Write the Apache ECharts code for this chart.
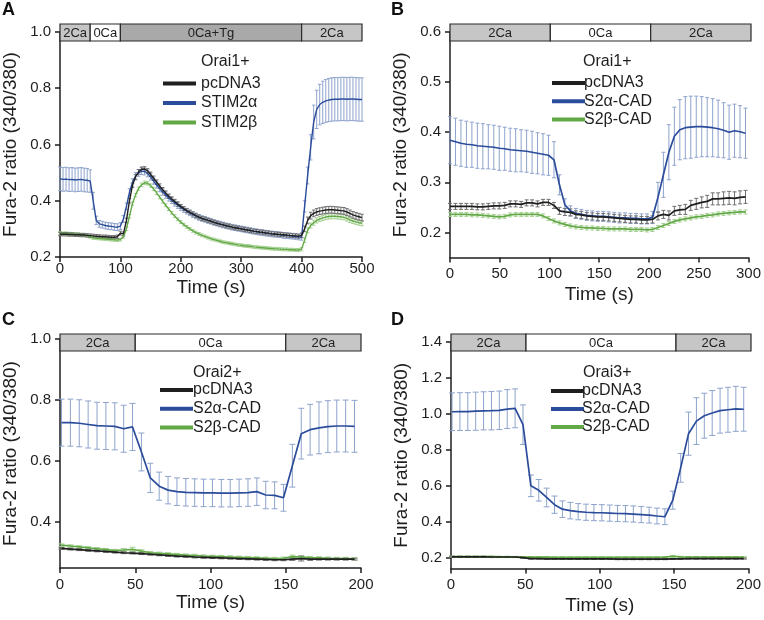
<!DOCTYPE html>
<html>
<head>
<meta charset="utf-8">
<script src="https://cdn.jsdelivr.net/npm/echarts@6/dist/echarts.min.js"></script>
<style>html,body{margin:0;padding:0;background:#fff}#c{width:764px;height:620px}</style>
</head>
<body>
<div id="c"></div>
<script>
// ---------- DATA ----------
const tA = [0,5,10,15,20,25,30,35,40,45,50,55,60,65,70,75,80,85,90,95,100,105,110,115,120,125,130,135,140,145,150,155,160,165,170,175,180,185,190,195,200,205,210,215,220,225,230,235,240,245,250,255,260,265,270,275,280,285,290,295,300,305,310,315,320,325,330,335,340,345,350,355,360,365,370,375,380,385,390,395,400,405,410,415,420,425,430,435,440,445,450,455,460,465,470,475,480,485,490,495,500];
const aBlack = [0.282,0.281,0.281,0.280,0.280,0.279,0.279,0.278,0.278,0.277,
0.276,0.275,0.274,0.273,0.272,0.272,0.271,0.270,0.270,0.272,
0.285,0.282,0.330,0.400,0.455,0.485,0.503,0.512,0.513,0.506,
0.494,0.480,0.466,0.452,0.439,0.427,0.416,0.406,0.397,0.388,
0.380,0.372,0.365,0.359,0.353,0.347,0.342,0.337,0.334,0.330,
0.327,0.323,0.320,0.317,0.314,0.311,0.309,0.306,0.304,0.302,
0.300,0.298,0.296,0.294,0.292,0.291,0.289,0.288,0.286,0.285,
0.283,0.282,0.281,0.280,0.279,0.278,0.277,0.276,0.275,0.274,
0.277,0.300,0.330,0.347,0.355,0.360,0.363,0.365,0.367,0.368,
0.368,0.367,0.366,0.365,0.364,0.360,0.355,0.350,0.346,0.343,
0.340];
const aBlackErr = [0.006,0.006,0.006,0.006,0.006,0.006,0.006,0.006,0.006,0.006,
0.006,0.006,0.006,0.006,0.006,0.006,0.006,0.006,0.006,0.006,
0.007,0.007,0.008,0.008,0.008,0.008,0.008,0.008,0.008,0.008,
0.008,0.008,0.008,0.008,0.008,0.008,0.008,0.008,0.008,0.008,
0.007,0.007,0.007,0.007,0.007,0.007,0.007,0.007,0.007,0.007,
0.007,0.007,0.007,0.007,0.007,0.007,0.007,0.007,0.007,0.007,
0.007,0.007,0.007,0.007,0.007,0.007,0.007,0.007,0.007,0.007,
0.007,0.007,0.007,0.007,0.007,0.007,0.007,0.007,0.007,0.007,
0.008,0.010,0.012,0.012,0.012,0.012,0.012,0.012,0.012,0.012,
0.012,0.012,0.012,0.012,0.012,0.012,0.012,0.012,0.012,0.012,
0.012];
const aBlue = [0.478,0.476,0.477,0.475,0.476,0.474,0.475,0.476,0.474,0.473,
0.470,0.400,0.330,0.318,0.315,0.312,0.310,0.309,0.307,0.306,
0.310,0.335,0.380,0.430,0.465,0.487,0.499,0.505,0.504,0.497,
0.485,0.470,0.456,0.443,0.431,0.420,0.410,0.401,0.392,0.384,
0.376,0.369,0.363,0.357,0.351,0.346,0.341,0.337,0.334,0.330,
0.327,0.323,0.320,0.317,0.314,0.311,0.309,0.306,0.304,0.302,
0.300,0.298,0.296,0.294,0.292,0.290,0.288,0.287,0.285,0.284,
0.282,0.281,0.280,0.279,0.277,0.276,0.275,0.274,0.273,0.271,
0.272,0.380,0.490,0.590,0.680,0.725,0.742,0.750,0.755,0.758,
0.760,0.761,0.761,0.762,0.762,0.761,0.762,0.762,0.761,0.760,
0.760];
const aBlueErr = [0.042,0.042,0.042,0.042,0.042,0.042,0.042,0.042,0.042,0.042,
0.040,0.030,0.015,0.012,0.012,0.012,0.012,0.012,0.012,0.012,
0.012,0.012,0.012,0.013,0.013,0.013,0.012,0.012,0.012,0.012,
0.011,0.011,0.011,0.011,0.011,0.011,0.011,0.011,0.011,0.011,
0.010,0.010,0.010,0.010,0.010,0.010,0.010,0.010,0.010,0.010,
0.010,0.010,0.010,0.010,0.010,0.010,0.010,0.010,0.010,0.010,
0.010,0.010,0.010,0.010,0.010,0.010,0.010,0.010,0.010,0.010,
0.010,0.010,0.010,0.010,0.010,0.010,0.010,0.010,0.010,0.010,
0.012,0.020,0.030,0.045,0.060,0.068,0.072,0.075,0.076,0.077,
0.077,0.077,0.077,0.077,0.077,0.077,0.077,0.077,0.077,0.077,
0.077];
const aGreen = [0.285,0.284,0.284,0.283,0.282,0.281,0.280,0.279,0.278,0.276,
0.272,0.268,0.267,0.266,0.265,0.264,0.263,0.262,0.261,0.260,
0.262,0.272,0.300,0.345,0.390,0.420,0.443,0.457,0.464,0.462,
0.454,0.442,0.428,0.413,0.398,0.384,0.370,0.357,0.345,0.334,
0.324,0.315,0.307,0.300,0.293,0.287,0.282,0.277,0.273,0.269,
0.265,0.262,0.259,0.256,0.253,0.251,0.249,0.247,0.245,0.243,
0.242,0.240,0.239,0.238,0.236,0.235,0.234,0.233,0.232,0.231,
0.230,0.229,0.229,0.228,0.227,0.227,0.226,0.226,0.225,0.225,
0.228,0.260,0.295,0.312,0.322,0.330,0.335,0.339,0.342,0.344,
0.345,0.345,0.344,0.343,0.341,0.337,0.332,0.328,0.325,0.322,
0.320];
const aGreenErr = [0.005,0.005,0.005,0.005,0.005,0.005,0.005,0.005,0.005,0.005,
0.005,0.005,0.005,0.005,0.005,0.005,0.005,0.005,0.005,0.005,
0.005,0.005,0.006,0.006,0.006,0.006,0.006,0.006,0.006,0.006,
0.006,0.006,0.006,0.006,0.006,0.005,0.005,0.005,0.005,0.005,
0.005,0.005,0.005,0.005,0.005,0.005,0.005,0.005,0.005,0.005,
0.005,0.005,0.005,0.005,0.005,0.005,0.005,0.005,0.005,0.005,
0.005,0.005,0.005,0.005,0.005,0.005,0.005,0.005,0.005,0.005,
0.005,0.005,0.005,0.005,0.005,0.005,0.005,0.005,0.005,0.005,
0.006,0.008,0.009,0.009,0.009,0.009,0.009,0.009,0.009,0.009,
0.009,0.009,0.009,0.009,0.009,0.009,0.009,0.009,0.009,0.009,
0.009];

const tB = [0,5.5,11,16.5,22,27.5,33,38.5,44,49.5,55,60.5,66,71.5,77,82.5,88,93.5,99,104.5,110,115.5,121,126.5,132,137.5,143,148.5,154,159.5,165,170.5,176,181.5,187,192.5,198,203.5,209,214.5,220,225.5,231,236.5,242,247.5,253,258.5,264,269.5,275,280.5,286,291.5,297];
const bBlack = [0.252,0.252,0.252,0.252,0.252,0.251,0.251,0.252,0.253,0.253,
0.254,0.257,0.257,0.256,0.259,0.259,0.257,0.260,0.260,0.254,
0.243,0.241,0.240,0.236,0.235,0.233,0.232,0.231,0.231,0.230,
0.229,0.228,0.227,0.226,0.226,0.225,0.225,0.226,0.233,0.236,
0.234,0.243,0.245,0.246,0.254,0.257,0.260,0.262,0.267,0.267,
0.268,0.269,0.268,0.270,0.271];
const bBlackErr = [0.006,0.006,0.006,0.006,0.006,0.006,0.006,0.006,0.006,0.006,
0.006,0.006,0.006,0.006,0.006,0.006,0.006,0.006,0.006,0.006,
0.007,0.007,0.007,0.007,0.007,0.007,0.007,0.007,0.007,0.007,
0.007,0.007,0.007,0.007,0.007,0.007,0.007,0.007,0.008,0.008,
0.009,0.009,0.009,0.010,0.010,0.011,0.011,0.012,0.012,0.012,
0.013,0.013,0.013,0.013,0.013];
const bBlue = [0.384,0.381,0.378,0.376,0.375,0.373,0.372,0.371,0.370,0.368,
0.367,0.365,0.364,0.363,0.362,0.360,0.358,0.356,0.354,0.345,
0.295,0.255,0.243,0.238,0.236,0.234,0.233,0.232,0.232,0.231,
0.230,0.229,0.229,0.228,0.228,0.227,0.227,0.230,0.270,0.315,
0.360,0.392,0.405,0.409,0.410,0.411,0.411,0.410,0.409,0.407,
0.404,0.400,0.403,0.401,0.398];
const bBlueErr = [0.047,0.047,0.046,0.046,0.045,0.045,0.045,0.044,0.044,0.044,
0.043,0.043,0.043,0.042,0.042,0.042,0.041,0.041,0.040,0.036,
0.020,0.012,0.010,0.010,0.010,0.010,0.010,0.010,0.010,0.010,
0.010,0.010,0.010,0.010,0.010,0.010,0.010,0.012,0.030,0.045,
0.055,0.058,0.060,0.062,0.062,0.061,0.060,0.059,0.058,0.057,
0.055,0.054,0.053,0.052,0.050];
const bGreen = [0.236,0.236,0.236,0.236,0.235,0.235,0.234,0.233,0.232,0.231,
0.232,0.235,0.236,0.236,0.236,0.236,0.236,0.233,0.228,0.223,
0.219,0.216,0.213,0.211,0.210,0.209,0.209,0.208,0.208,0.207,
0.207,0.207,0.207,0.206,0.206,0.206,0.205,0.206,0.210,0.214,
0.218,0.222,0.225,0.227,0.229,0.231,0.232,0.234,0.235,0.237,
0.238,0.239,0.240,0.241,0.241];
const bGreenErr = [0.004,0.004,0.004,0.004,0.004,0.004,0.004,0.004,0.004,0.004,
0.004,0.004,0.004,0.004,0.004,0.004,0.004,0.004,0.004,0.004,
0.004,0.004,0.004,0.004,0.004,0.004,0.004,0.004,0.004,0.004,
0.004,0.004,0.004,0.004,0.004,0.004,0.004,0.004,0.004,0.004,
0.004,0.004,0.004,0.004,0.004,0.004,0.004,0.004,0.004,0.004,
0.004,0.004,0.004,0.004,0.004];

const tC = [1,6.9,12.8,18.7,24.6,30.5,36.4,42.3,48.2,54.1,60,65.9,71.8,77.7,83.6,89.5,95.4,101.3,107.2,113.1,119,124.9,130.8,136.7,142.6,148.5,154.4,160.3,166.2,172.1,178,183.9,189.8,195.7];
const cBlack = [0.314,0.312,0.310,0.308,0.306,0.304,0.302,0.300,0.299,0.297,
0.295,0.293,0.291,0.289,0.288,0.286,0.285,0.284,0.283,0.282,
0.281,0.280,0.279,0.278,0.277,0.277,0.279,0.281,0.279,0.279,
0.279,0.279,0.279,0.279];
const cBlackErr = [0.003,0.003,0.003,0.003,0.003,0.003,0.003,0.003,0.003,0.003,
0.003,0.003,0.003,0.003,0.003,0.003,0.003,0.003,0.003,0.003,
0.003,0.003,0.003,0.003,0.003,0.003,0.004,0.008,0.004,0.003,
0.003,0.003,0.003,0.003];
const cBlue = [0.726,0.726,0.724,0.720,0.716,0.715,0.714,0.706,0.712,0.630,
0.545,0.518,0.505,0.500,0.498,0.497,0.496,0.496,0.495,0.495,
0.496,0.497,0.500,0.489,0.488,0.480,0.585,0.690,0.703,0.709,
0.713,0.715,0.715,0.714];
const cBlueErr = [0.077,0.077,0.077,0.077,0.077,0.077,0.077,0.077,0.077,0.062,
0.048,0.046,0.045,0.045,0.045,0.045,0.045,0.045,0.045,0.045,
0.045,0.045,0.045,0.045,0.044,0.044,0.070,0.083,0.083,0.085,
0.085,0.085,0.085,0.085];
const cGreen = [0.325,0.322,0.319,0.316,0.313,0.310,0.307,0.309,0.311,0.305,
0.300,0.298,0.296,0.294,0.292,0.291,0.289,0.288,0.287,0.286,
0.285,0.284,0.283,0.282,0.281,0.282,0.287,0.286,0.284,0.283,
0.282,0.281,0.281,0.280];
const cGreenErr = [0.004,0.004,0.004,0.004,0.004,0.004,0.004,0.005,0.007,0.005,
0.004,0.004,0.004,0.004,0.004,0.004,0.004,0.004,0.004,0.004,
0.004,0.004,0.004,0.004,0.004,0.004,0.005,0.004,0.004,0.004,
0.004,0.004,0.004,0.004];

const tD = [0.7,6,11.3,16.6,21.9,27.2,32.5,37.8,43.1,48.4,53.7,59,64.3,69.6,74.9,80.2,85.5,90.8,96.1,101.4,106.7,112,117.3,122.6,127.9,133.2,138.5,143.8,149.1,154.4,159.7,165,170.3,175.6,180.9,186.2,191.5,196.8];
const dBlack = [0.205,0.205,0.205,0.205,0.205,0.204,0.204,0.204,0.204,0.200,
0.195,0.195,0.194,0.194,0.194,0.193,0.193,0.193,0.193,0.193,
0.193,0.192,0.192,0.192,0.192,0.192,0.192,0.192,0.193,0.194,
0.195,0.195,0.195,0.195,0.195,0.195,0.195,0.195];
const dBlackErr = [0.003,0.003,0.003,0.003,0.003,0.003,0.003,0.003,0.003,0.003,
0.003,0.003,0.003,0.003,0.003,0.003,0.003,0.003,0.003,0.003,
0.003,0.003,0.003,0.003,0.003,0.003,0.003,0.003,0.003,0.003,
0.003,0.003,0.003,0.003,0.003,0.003,0.003,0.003];
const dBlue = [1.012,1.013,1.013,1.015,1.017,1.018,1.020,1.027,1.031,0.940,
0.600,0.575,0.535,0.495,0.470,0.462,0.456,0.453,0.451,0.450,
0.448,0.446,0.445,0.443,0.440,0.437,0.432,0.428,0.520,0.700,
0.890,0.960,0.990,1.005,1.018,1.023,1.028,1.026];
const dBlueErr = [0.105,0.105,0.105,0.106,0.106,0.107,0.107,0.108,0.108,0.110,
0.060,0.060,0.052,0.048,0.046,0.046,0.045,0.045,0.045,0.045,
0.045,0.045,0.045,0.045,0.045,0.044,0.044,0.044,0.050,0.080,
0.120,0.130,0.125,0.125,0.125,0.125,0.125,0.122];
const dGreen = [0.206,0.206,0.206,0.206,0.206,0.206,0.205,0.205,0.204,0.203,
0.203,0.203,0.203,0.202,0.202,0.202,0.202,0.202,0.202,0.202,
0.202,0.202,0.202,0.202,0.202,0.202,0.202,0.203,0.208,0.205,
0.204,0.204,0.204,0.203,0.203,0.203,0.203,0.203];
const dGreenErr = [0.003,0.003,0.003,0.003,0.003,0.003,0.003,0.003,0.003,0.003,
0.003,0.003,0.003,0.003,0.003,0.003,0.003,0.003,0.003,0.003,
0.003,0.003,0.003,0.003,0.003,0.003,0.003,0.003,0.005,0.003,
0.003,0.003,0.003,0.003,0.003,0.003,0.003,0.003];

// condition bars: [start, end] and labels
const segA = [[0,50],[50,100],[100,400],[400,500]];
const segALabels = ['2Ca','0Ca','0Ca+Tg','2Ca'];
const segB = [[0,100],[100,200],[200,300]];
const segBLabels = ['2Ca','0Ca','2Ca'];
const segC = [[0,50],[50,150],[150,200]];
const segCLabels = ['2Ca','0Ca','2Ca'];
const segD = [[0,50],[50,150],[150,200]];
const segDLabels = ['2Ca','0Ca','2Ca'];

const yTicksA = [0.2,0.4,0.6,0.8,1.0];
const yTicksB = [0.2,0.3,0.4,0.5,0.6];
const yTicksC = [0.4,0.6,0.8,1.0];
const yTicksD = [0.2,0.4,0.6,0.8,1.0,1.2,1.4];

const namesA = ['pcDNA3','STIM2α','STIM2β'];
const namesCAD = ['pcDNA3','S2α-CAD','S2β-CAD'];

// ---------- STYLE / LAYOUT ----------
const FONT = '"Liberation Sans", Arial, sans-serif';
const COL = {
  k: {line:'#1f1f1f', err:'#6f6f6f'},
  b: {line:'#2b4c9a', err:'#8ea3cc'},
  g: {line:'#62a846', err:'#a6d092'}
};
const SEGFILL = {'2Ca':'#c6c6c6','0Ca':'#ffffff','0Ca+Tg':'#a9a9a9'};

const panels = [
  {letter:'A', lx:2, ly:1, title:'Orai1+', tx:201, ty:62,
   grid:{left:60, top:32, width:302, height:225}, bar:{left:60, top:24, width:302, height:17},
   xmax:500, xint:100, ymin:0.2, ymax:1.0, yticks:yTicksA, xLabelMargin:4, xNameGap:21,
   cap:1.8, lw:1.4, t:tA, segs:segA, segLabels:segALabels,
   legend:{left:158, top:70.5, gap:3.5, pad:0}, names:namesA,
   data:{k:[aBlack,aBlackErr], b:[aBlue,aBlueErr], g:[aGreen,aGreenErr]}},
  {letter:'B', lx:391, ly:1, title:'Orai1+', tx:583, ty:62,
   grid:{left:450, top:32, width:301, height:225.5}, bar:{left:450, top:24, width:301, height:17},
   xmax:300, xint:50, ymin:0.15, ymax:0.6, yticks:yTicksB, xLabelMargin:9, xNameGap:28,
   cap:2, lw:1.7, t:tB, segs:segB, segLabels:segBLabels,
   legend:{left:547, top:70, gap:2.3, pad:-6}, names:namesCAD,
   data:{k:[bBlack,bBlackErr], b:[bBlue,bBlueErr], g:[bGreen,bGreenErr]}},
  {letter:'C', lx:2, ly:311, title:'Orai2+', tx:193, ty:373,
   grid:{left:60, top:339, width:301, height:229}, bar:{left:60, top:334, width:301, height:17},
   xmax:200, xint:50, ymin:0.25, ymax:1.0, yticks:yTicksC, xLabelMargin:9, xNameGap:24,
   cap:3, lw:1.7, t:tC, segs:segC, segLabels:segCLabels,
   legend:{left:155, top:377, gap:2.8, pad:-5}, names:namesCAD,
   data:{k:[cBlack,cBlackErr], b:[cBlue,cBlueErr], g:[cGreen,cGreenErr]}},
  {letter:'D', lx:391, ly:311, title:'Orai3+', tx:583, ty:373,
   grid:{left:451, top:342, width:300, height:226.5}, bar:{left:451, top:334, width:300, height:17},
   xmax:200, xint:50, ymin:0.14, ymax:1.4, yticks:yTicksD, xLabelMargin:9, xNameGap:28,
   cap:3, lw:1.7, t:tD, segs:segD, segLabels:segDLabels,
   legend:{left:546, top:378, gap:2, pad:-7}, names:namesCAD,
   data:{k:[dBlack,dBlackErr], b:[dBlue,dBlueErr], g:[dGreen,dGreenErr]}}
];

const grids = [], xAxes = [], yAxes = [], series = [], legends = [], graphics = [];
const axisCol = '#1e1e1e';

panels.forEach((p, i) => {
  const gi = grids.length;
  grids.push(Object.assign({containLabel:false}, p.grid));
  grids.push(Object.assign({containLabel:false}, p.bar));
  xAxes.push({
    gridIndex: gi, type:'value', min:0, max:p.xmax, interval:p.xint,
    name:'Time (s)', nameLocation:'middle', nameGap:p.xNameGap,
    nameTextStyle:{fontSize:19, fontFamily:FONT, color:'#1e1e1e'},
    axisLine:{onZero:false, lineStyle:{color:axisCol, width:1.5}},
    axisTick:{length:5, lineStyle:{color:axisCol, width:1.5}},
    axisLabel:{margin:p.xLabelMargin, fontSize:15, fontFamily:FONT, color:'#1e1e1e'},
    splitLine:{show:false}
  });
  xAxes.push({gridIndex: gi+1, type:'value', min:0, max:p.xmax, show:false});
  yAxes.push({
    gridIndex: gi, type:'value', min:p.ymin, max:p.ymax,
    name:'Fura-2 ratio (340/380)', nameLocation:'middle', nameGap:40,
    nameTextStyle:{fontSize:19, fontFamily:FONT, color:'#1e1e1e'},
    axisLine:{show:true, onZero:false, lineStyle:{color:axisCol, width:1.5}},
    axisTick:{show:true, length:5, customValues:p.yticks, lineStyle:{color:axisCol, width:1.5}},
    axisLabel:{customValues:p.yticks, margin:9, fontSize:15, fontFamily:FONT, color:'#1e1e1e',
               formatter:(v)=>Number(v).toFixed(1)},
    splitLine:{show:false}
  });
  yAxes.push({gridIndex: gi+1, type:'value', min:0, max:1, show:false});

  // condition bar
  const segLabels = p.segLabels;
  series.push({
    type:'custom', name:'bar'+i, xAxisIndex:gi+1, yAxisIndex:gi+1, silent:true,
    data: p.segs.map(s => [s[0], s[1]]),
    encode:{x:[0,1]},
    renderItem:(params, api) => {
      const a = api.coord([api.value(0), 1]);
      const b = api.coord([api.value(1), 0]);
      const lab = segLabels[params.dataIndex];
      return {type:'group', children:[
        {type:'rect', shape:{x:a[0], y:a[1], width:b[0]-a[0], height:b[1]-a[1]},
         style:{fill:SEGFILL[lab], stroke:'#2a2a2a', lineWidth:1.2}},
        {type:'text', style:{text:lab, x:(a[0]+b[0])/2, y:(a[1]+b[1])/2+0.5, align:'center', verticalAlign:'middle',
          fill:'#222', font:'13px ' + FONT}}
      ]};
    }
  });

  // data series: draw green, blue, black (black on top)
  const order = [['g',2],['b',1],['k',0]];
  order.forEach(([key, ni]) => {
    const vals = p.data[key][0], errs = p.data[key][1];
    const cap = p.cap, ec = COL[key].err;
    series.push({
      type:'custom', name:'err'+i+key, xAxisIndex:gi, yAxisIndex:gi, silent:true, z:2,
      data: p.t.map((x, j) => [x, vals[j], errs[j]]),
      encode:{x:0, y:1},
      renderItem:(params, api) => {
        const x = api.value(0), y = api.value(1), e = api.value(2);
        const t1 = api.coord([x, y + e]), t2 = api.coord([x, y - e]);
        const st = {stroke:ec, lineWidth:1};
        return {type:'group', children:[
          {type:'line', shape:{x1:t1[0], y1:t1[1], x2:t2[0], y2:t2[1]}, style:st},
          {type:'line', shape:{x1:t1[0]-cap, y1:t1[1], x2:t1[0]+cap, y2:t1[1]}, style:st},
          {type:'line', shape:{x1:t2[0]-cap, y1:t2[1], x2:t2[0]+cap, y2:t2[1]}, style:st}
        ]};
      }
    });
    series.push({
      type:'line', name:p.names[ni], xAxisIndex:gi, yAxisIndex:gi, z:3,
      data: p.t.map((x, j) => [x, vals[j]]),
      showSymbol:false, symbol:'none', silent:true,
      lineStyle:{color:COL[key].line, width:p.lw},
      itemStyle:{color:COL[key].line}
    });
  });

  legends.push({
    left:p.legend.left, top:p.legend.top, orient:'vertical', icon:'rect',
    itemWidth:33, itemHeight:4, itemGap:p.legend.gap, selectedMode:false,
    data:p.names,
    textStyle:{fontSize:16, fontFamily:FONT, color:'#1e1e1e', lineHeight:16, padding:[0,0,0,p.legend.pad]}
  });

  graphics.push({type:'text', x:p.tx, y:p.ty, style:{text:p.title, font:'16px ' + FONT, fill:'#1e1e1e', verticalAlign:'middle'}});
  graphics.push({type:'text', x:p.lx, y:p.ly, style:{text:p.letter, font:'bold 18px ' + FONT, fill:'#111', verticalAlign:'top'}});
});

const chart = echarts.init(document.getElementById('c'), null, {renderer:'canvas'});
chart.setOption({
  animation:false,
  backgroundColor:'#ffffff',
  grid:grids, xAxis:xAxes, yAxis:yAxes, legend:legends, graphic:graphics, series:series
});
</script>
</body>
</html>
